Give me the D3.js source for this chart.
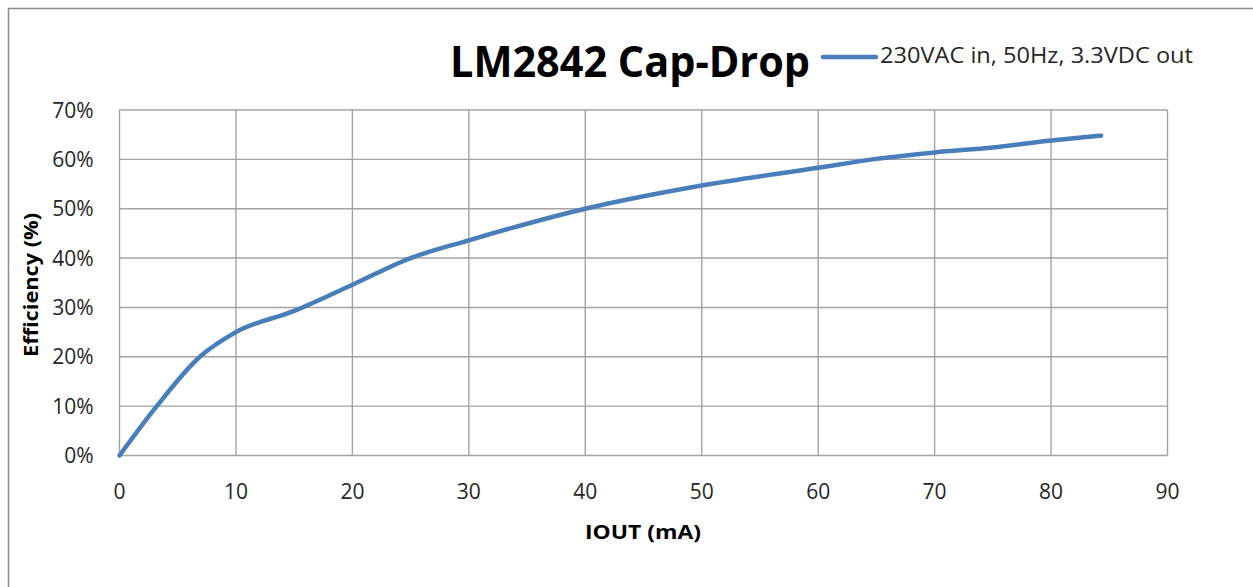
<!DOCTYPE html>
<html>
<head>
<meta charset="utf-8">
<script src="https://cdn.jsdelivr.net/npm/d3@7"></script>
<style>
  body { margin: 0; background: #fff; }
  text { font-family: "Open Sans", "Liberation Sans", sans-serif; }
</style>
</head>
<body>
<div id="chart"></div>
<script>
// Data
var iout = [0, 3.2, 6.9, 10, 15, 20, 25, 30, 40, 50, 60, 65, 70, 75, 80, 84.3];
var efficiency = [0, 10, 20, 25, 29.3, 34.6, 40, 43.6, 50, 54.7, 58.3, 60.1, 61.4, 62.4, 63.8, 64.8];
var xTicks = [0, 10, 20, 30, 40, 50, 60, 70, 80, 90];
var yTicks = [0, 10, 20, 30, 40, 50, 60, 70];
var seriesName = "230VAC in, 50Hz, 3.3VDC out";

var svgWidth = 1253, svgHeight = 587;
var margin = {top: 110, right: 86, bottom: 132, left: 119.5};
var chartWidth = 1167.5 - margin.left,
    chartHeight = 455.5 - margin.top;

var svg = d3.select("#chart").append("svg")
    .attr("width", svgWidth).attr("height", svgHeight);

// outer frame (left and top edges visible)
svg.append("path")
    .attr("d", "M8.5,587 L8.5,8.5 L1253,8.5")
    .attr("fill", "none").attr("stroke", "#8c8c8c").attr("stroke-width", 1.5);

var chartGroup = svg.append("g").attr("transform", `translate(${margin.left}, ${margin.top})`);

var xScale = d3.scaleLinear().domain([0, 90]).range([0, chartWidth]);
var yScale = d3.scaleLinear().domain([0, 70]).range([chartHeight, 0]);

// gridlines
chartGroup.append("g").selectAll("line.v")
    .data(xTicks).enter().append("line")
    .attr("x1", d => xScale(d)).attr("x2", d => xScale(d))
    .attr("y1", 0).attr("y2", chartHeight)
    .attr("stroke", "#a3a3a3").attr("stroke-width", 1.4);

chartGroup.append("g").selectAll("line.h")
    .data(yTicks).enter().append("line")
    .attr("x1", 0).attr("x2", chartWidth)
    .attr("y1", d => yScale(d)).attr("y2", d => yScale(d))
    .attr("stroke", "#a3a3a3").attr("stroke-width", 1.4);

// x tick labels
chartGroup.append("g").selectAll("text")
    .data(xTicks).enter().append("text")
    .attr("x", d => xScale(d))
    .attr("y", chartHeight + 43)
    .attr("text-anchor", "middle")
    .attr("font-size", "21")
    .attr("fill", "#262626")
    .text(d => d);

// y tick labels
chartGroup.append("g").selectAll("text")
    .data(yTicks).enter().append("text")
    .attr("x", -26)
    .attr("y", d => yScale(d) + 7.5)
    .attr("text-anchor", "end")
    .attr("font-size", "21")
    .attr("fill", "#262626")
    .text(d => d + "%");

// the line
var pts = iout.map((x, i) => [x, efficiency[i]]);
var line = d3.line()
    .x(d => xScale(d[0]))
    .y(d => yScale(d[1]))
    .curve(d3.curveMonotoneX);

chartGroup.append("path")
    .datum(pts)
    .attr("d", line)
    .attr("fill", "none")
    .attr("stroke", "#4a7ebb")
    .attr("stroke-width", 4.5)
    .attr("stroke-linecap", "round")
    .attr("stroke-linejoin", "round");

// axis titles
svg.append("text")
    .attr("x", 643).attr("y", 539)
    .attr("text-anchor", "middle")
    .attr("font-size", "20").attr("font-weight", "bold")
    .attr("textLength", 116).attr("lengthAdjust", "spacingAndGlyphs")
    .text("IOUT (mA)");

svg.append("text")
    .attr("transform", "translate(38, 285) rotate(-90)")
    .attr("text-anchor", "middle")
    .attr("font-size", "20").attr("font-weight", "bold")
    .attr("textLength", 144).attr("lengthAdjust", "spacingAndGlyphs")
    .text("Efficiency (%)");

// title
svg.append("text")
    .attr("x", 450).attr("y", 77)
    .attr("font-size", "43").attr("font-weight", "bold")
    .attr("textLength", 360).attr("lengthAdjust", "spacingAndGlyphs")
    .text("LM2842 Cap-Drop");

// legend
svg.append("line")
    .attr("x1", 823).attr("x2", 876)
    .attr("y1", 57).attr("y2", 57)
    .attr("stroke", "#4a7ebb").attr("stroke-width", 4.5)
    .attr("stroke-linecap", "round");

svg.append("text")
    .attr("x", 880).attr("y", 63)
    .attr("font-size", "22")
    .attr("fill", "#262626")
    .attr("textLength", 313).attr("lengthAdjust", "spacingAndGlyphs")
    .text(seriesName);
</script>
</body>
</html>
